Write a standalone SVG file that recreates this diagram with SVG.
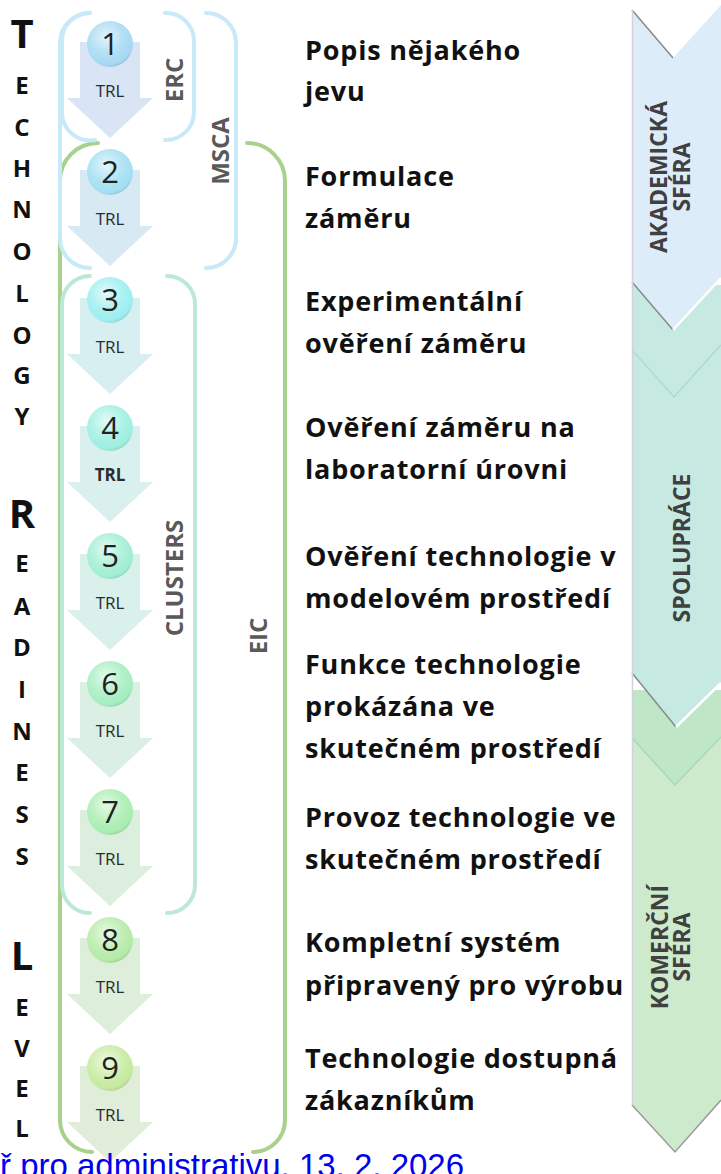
<svg xmlns="http://www.w3.org/2000/svg" xmlns:xlink="http://www.w3.org/1999/xlink" width="721" height="1174" viewBox="0 0 721 1174">
<style>
.lt{font-family:"Open Sans","DejaVu Sans",sans-serif;font-weight:bold;fill:#111;text-anchor:middle}
.sm{font-size:24px}
.bg{font-size:40px}
.num{font-family:"Open Sans","DejaVu Sans",sans-serif;font-size:31px;fill:#222;text-anchor:middle}
.trl{font-family:"Open Sans","DejaVu Sans",sans-serif;font-size:17px;fill:#2b2b2b;text-anchor:middle}
.desc{font-family:"Open Sans","DejaVu Sans",sans-serif;font-size:27px;font-weight:bold;fill:#111;letter-spacing:0.8px}
.lab{font-family:"Open Sans","DejaVu Sans",sans-serif;font-size:24px;font-weight:bold;fill:#595959;text-anchor:middle}
.band{font-family:"Open Sans","DejaVu Sans",sans-serif;font-size:23px;font-weight:bold;fill:#404040;text-anchor:middle}
.br{fill:none;stroke-width:4;stroke-linecap:round}
</style>
<defs>
<path id="arr" d="M80,-2 H140 V54 H153 L110,94 L67,54 H80 Z"/>
<radialGradient id="shine" cx="0.42" cy="0.35" r="0.65">
<stop offset="0" stop-color="#fff" stop-opacity="0.7"/>
<stop offset="0.55" stop-color="#fff" stop-opacity="0.15"/>
<stop offset="0.85" stop-color="#fff" stop-opacity="0"/>
<stop offset="1" stop-color="#000" stop-opacity="0.08"/>
</radialGradient>
</defs>

<g id="side-band">
<polygon points="632,690 721,690 721,1100 675,1152 632,1105" fill="#cdebcc"/>
<polygon points="632,690 721,690 721,737 675,785 632,738" fill="#c0e6c8"/>
<polyline points="632,738 675,785 721,737" fill="none" stroke="#a9d8b6" stroke-width="1.5"/>
<polyline points="632,1105 675,1152 721,1100" fill="none" stroke="#9a9a9a" stroke-width="1.5"/>
<polygon points="632,285 721,285 721,683 676,727 632,673" fill="#c6eae2"/>
<polyline points="632,350 674,397 721,345" fill="none" stroke="#acdad0" stroke-width="1.5"/>
<polyline points="632,673 676,727" fill="none" stroke="#8a8a8a" stroke-width="1.5"/>
<polyline points="676,727 721,683" fill="none" stroke="#ffffff" stroke-width="2.5"/>
<polygon points="632,10 673,58 721,5 721,278 673,330 632,282" fill="#dcedf9"/>
<polyline points="632,10 673,58" fill="none" stroke="#8a8a8a" stroke-width="1.5"/>
<polyline points="632,282 673,330" fill="none" stroke="#8a8a8a" stroke-width="1.5"/>
<polyline points="673,330 721,278" fill="none" stroke="#ffffff" stroke-width="2.5"/>
<line x1="632.5" y1="10" x2="632.5" y2="1105" stroke="#d3d1db" stroke-width="1.5"/>
<text class="band" transform="translate(667,177) rotate(-90)">AKADEMICKÁ</text>
<text class="band" transform="translate(690,177) rotate(-90)">SFÉRA</text>
<text class="band" transform="translate(690,548) rotate(-90)">SPOLUPRÁCE</text>
<text class="band" transform="translate(668,947) rotate(-90)">KOMERČNÍ</text>
<text class="band" transform="translate(690,947) rotate(-90)">SFÉRA</text>
</g>

<g id="brackets">
<g id="eic" stroke="#a9d18e">
<path class="br" d="M98,143 A38,38 0 0 0 60,181 V1120 A32,32 0 0 0 92,1152"/>
<path class="br" d="M247,143 A38,38 0 0 1 285,181 V1120 A32,32 0 0 1 253,1152"/>
</g>
<g id="clusters" stroke="#bde7d6">
<path class="br" d="M90,276 A28,28 0 0 0 62,304 V885 A28,28 0 0 0 90,913"/>
<path class="br" d="M167,276 A28,28 0 0 1 195,304 V885 A28,28 0 0 1 167,913"/>
</g>
<g id="msca" stroke="#c7e9f8">
<path class="br" d="M90,13 A30,30 0 0 0 60,43 V238 A30,30 0 0 0 90,268"/>
<path class="br" d="M206,13 A30,30 0 0 1 236,43 V238 A30,30 0 0 1 206,268"/>
</g>
<g id="erc" stroke="#c7e9f8">
<path class="br" d="M90,13 A28,28 0 0 0 62,41 V112 A28,28 0 0 0 95,140"/>
<path class="br" d="M165,13 A28,28 0 0 1 194,41 V112 A28,28 0 0 1 165,140"/>
</g>
<text class="lab" transform="translate(183,80) rotate(-90)">ERC</text>
<text class="lab" transform="translate(229,151) rotate(-90)">MSCA</text>
<text class="lab" transform="translate(183,578) rotate(-90)">CLUSTERS</text>
<text class="lab" transform="translate(267,636) rotate(-90)">EIC</text>
</g>

<g id="trl-1"><use xlink:href="#arr" y="44" fill="#d9e5f5"/><circle cx="110" cy="44" r="23" fill="#a8daf3"/><circle cx="110" cy="44" r="23" fill="url(#shine)"/><text class="num" x="110" y="55">1</text><text class="trl" x="110" y="97">TRL</text></g>
<g id="trl-2"><use xlink:href="#arr" y="172" fill="#d7eaf4"/><circle cx="110" cy="172" r="23" fill="#a4e0f2"/><circle cx="110" cy="172" r="23" fill="url(#shine)"/><text class="num" x="110" y="183">2</text><text class="trl" x="110" y="225">TRL</text></g>
<g id="trl-3"><use xlink:href="#arr" y="300" fill="#d8eff2"/><circle cx="110" cy="300" r="23" fill="#9eeff0"/><circle cx="110" cy="300" r="23" fill="url(#shine)"/><text class="num" x="110" y="311">3</text><text class="trl" x="110" y="353">TRL</text></g>
<g id="trl-4"><use xlink:href="#arr" y="428" fill="#d9f0ee"/><circle cx="110" cy="428" r="23" fill="#9ff0e2"/><circle cx="110" cy="428" r="23" fill="url(#shine)"/><text class="num" x="110" y="439">4</text><text class="trl" x="110" y="481" font-weight="bold">TRL</text></g>
<g id="trl-5"><use xlink:href="#arr" y="556" fill="#daf0ea"/><circle cx="110" cy="556" r="23" fill="#a2efd3"/><circle cx="110" cy="556" r="23" fill="url(#shine)"/><text class="num" x="110" y="567">5</text><text class="trl" x="110" y="609">TRL</text></g>
<g id="trl-6"><use xlink:href="#arr" y="684" fill="#dbefe4"/><circle cx="110" cy="684" r="23" fill="#a6eec2"/><circle cx="110" cy="684" r="23" fill="url(#shine)"/><text class="num" x="110" y="695">6</text><text class="trl" x="110" y="737">TRL</text></g>
<g id="trl-7"><use xlink:href="#arr" y="812" fill="#dcefdf"/><circle cx="110" cy="812" r="23" fill="#aaeeb2"/><circle cx="110" cy="812" r="23" fill="url(#shine)"/><text class="num" x="110" y="823">7</text><text class="trl" x="110" y="865">TRL</text></g>
<g id="trl-8"><use xlink:href="#arr" y="940" fill="#ddeedb"/><circle cx="110" cy="940" r="23" fill="#b6eba8"/><circle cx="110" cy="940" r="23" fill="url(#shine)"/><text class="num" x="110" y="951">8</text><text class="trl" x="110" y="993">TRL</text></g>
<g id="trl-9"><use xlink:href="#arr" y="1068" fill="#e0edd8"/><circle cx="110" cy="1068" r="23" fill="#c6eba0"/><circle cx="110" cy="1068" r="23" fill="url(#shine)"/><text class="num" x="110" y="1079">9</text><text class="trl" x="110" y="1121">TRL</text></g>

<g id="acronym">
<text class="lt bg" x="22" y="48">T</text>
<text class="lt sm" x="22" y="94">E</text>
<text class="lt sm" x="22" y="136">C</text>
<text class="lt sm" x="22" y="177">H</text>
<text class="lt sm" x="22" y="218">N</text>
<text class="lt sm" x="22" y="260">O</text>
<text class="lt sm" x="22" y="302">L</text>
<text class="lt sm" x="22" y="344">O</text>
<text class="lt sm" x="22" y="384">G</text>
<text class="lt sm" x="22" y="425">Y</text>
<text class="lt bg" x="22" y="528">R</text>
<text class="lt sm" x="22" y="572">E</text>
<text class="lt sm" x="22" y="615">A</text>
<text class="lt sm" x="22" y="656">D</text>
<text class="lt sm" x="22" y="698">I</text>
<text class="lt sm" x="22" y="740">N</text>
<text class="lt sm" x="22" y="781">E</text>
<text class="lt sm" x="22" y="823">S</text>
<text class="lt sm" x="22" y="865">S</text>
<text class="lt bg" x="22" y="970">L</text>
<text class="lt sm" x="22" y="1016">E</text>
<text class="lt sm" x="22" y="1057">V</text>
<text class="lt sm" x="22" y="1097">E</text>
<text class="lt sm" x="22" y="1137">L</text>
</g>

<g id="descriptions">
<text class="desc" x="305" y="60">Popis nějakého</text>
<text class="desc" x="305" y="101">jevu</text>
<text class="desc" x="305" y="186">Formulace</text>
<text class="desc" x="305" y="228">záměru</text>
<text class="desc" x="305" y="311">Experimentální</text>
<text class="desc" x="305" y="353">ověření záměru</text>
<text class="desc" x="305" y="437">Ověření záměru na</text>
<text class="desc" x="305" y="479">laboratorní úrovni</text>
<text class="desc" x="305" y="566">Ověření technologie v</text>
<text class="desc" x="305" y="608">modelovém prostředí</text>
<text class="desc" x="305" y="674">Funkce technologie</text>
<text class="desc" x="305" y="716">prokázána ve</text>
<text class="desc" x="305" y="758">skutečném prostředí</text>
<text class="desc" x="305" y="827">Provoz technologie ve</text>
<text class="desc" x="305" y="869">skutečném prostředí</text>
<text class="desc" x="305" y="952">Kompletní systém</text>
<text class="desc" x="305" y="995">připravený pro výrobu</text>
<text class="desc" x="305" y="1068">Technologie dostupná</text>
<text class="desc" x="305" y="1110">zákazníkům</text>
</g>

<text id="footer" x="0" y="1177" font-family="Liberation Sans, Arial, sans-serif" font-size="33" fill="#0000ee" text-decoration="underline">ř pro administrativu, 13. 2. 2026</text>
</svg>
